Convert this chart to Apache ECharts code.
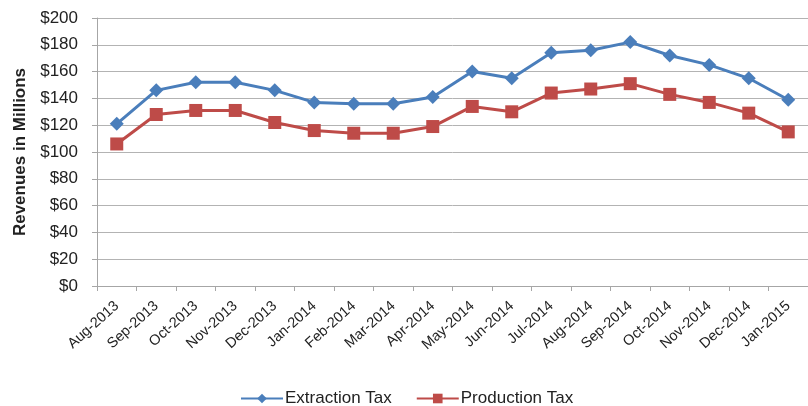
<!DOCTYPE html>
<html><head><meta charset="utf-8">
<script src="https://cdn.jsdelivr.net/npm/echarts@6/dist/echarts.min.js"></script>
<style>html,body{margin:0;padding:0;background:#fff}#c{width:808px;height:406px}</style>
</head><body><div id="c"></div>
<script>
var categories = ['Aug-2013','Sep-2013','Oct-2013','Nov-2013','Dec-2013','Jan-2014','Feb-2014','Mar-2014','Apr-2014','May-2014','Jun-2014','Jul-2014','Aug-2014','Sep-2014','Oct-2014','Nov-2014','Dec-2014','Jan-2015'];
var extractionTax = [121,146,152,152,146,137,136,136,141,160,155,174,176,182,172,165,155,139];
var productionTax = [106,128,131,131,122,116,114,114,119,134,130,144,147,151,143,137,129,115];
var yTicks = {min:0, max:200, interval:20};

var chart = echarts.init(document.getElementById('c'));
chart.setOption({
  animation:false,
  backgroundColor:'#fff',
  grid:{left:97, top:18, height:268, width:718, containLabel:false},
  legend:{
    top:390, left:240, padding:0, itemWidth:42, itemHeight:12, itemGap:24,
    textStyle:{fontSize:17, color:'#222', fontFamily:'Arial, sans-serif', padding:[0,0,0,-3]},
    data:['Extraction Tax','Production Tax']
  },
  xAxis:{
    type:'category', data:categories, boundaryGap:true,
    axisLine:{lineStyle:{color:'#a6a6a6'}},
    axisTick:{show:true, length:5, lineStyle:{color:'#a6a6a6'}},
    axisLabel:{rotate:42, fontSize:14.5, color:'#222', margin:18, interval:0, fontFamily:'Arial, sans-serif'}
  },
  yAxis:{
    type:'value', min:yTicks.min, max:yTicks.max, interval:yTicks.interval,
    name:'Revenues in Millions', nameLocation:'middle', nameGap:60,
    nameTextStyle:{fontSize:17, fontWeight:'bold', color:'#222', fontFamily:'Arial, sans-serif'},
    axisLine:{show:true, lineStyle:{color:'#a6a6a6'}},
    axisTick:{show:true, length:5, lineStyle:{color:'#a6a6a6'}},
    axisLabel:{formatter:function(v){return '$'+v;}, fontSize:17, color:'#222', margin:19, fontFamily:'Arial, sans-serif'},
    splitLine:{lineStyle:{color:'#b3b3b3', width:1}}
  },
  series:[
    {name:'Extraction Tax', type:'line', data:extractionTax, symbol:'diamond', symbolSize:14,
     lineStyle:{width:3, color:'#4a7ebb'}, itemStyle:{color:'#4a7ebb'}},
    {name:'Production Tax', type:'line', data:productionTax, symbol:'rect', symbolSize:13,
     lineStyle:{width:3, color:'#be4b48'}, itemStyle:{color:'#be4b48'}}
  ]
});
</script></body></html>
